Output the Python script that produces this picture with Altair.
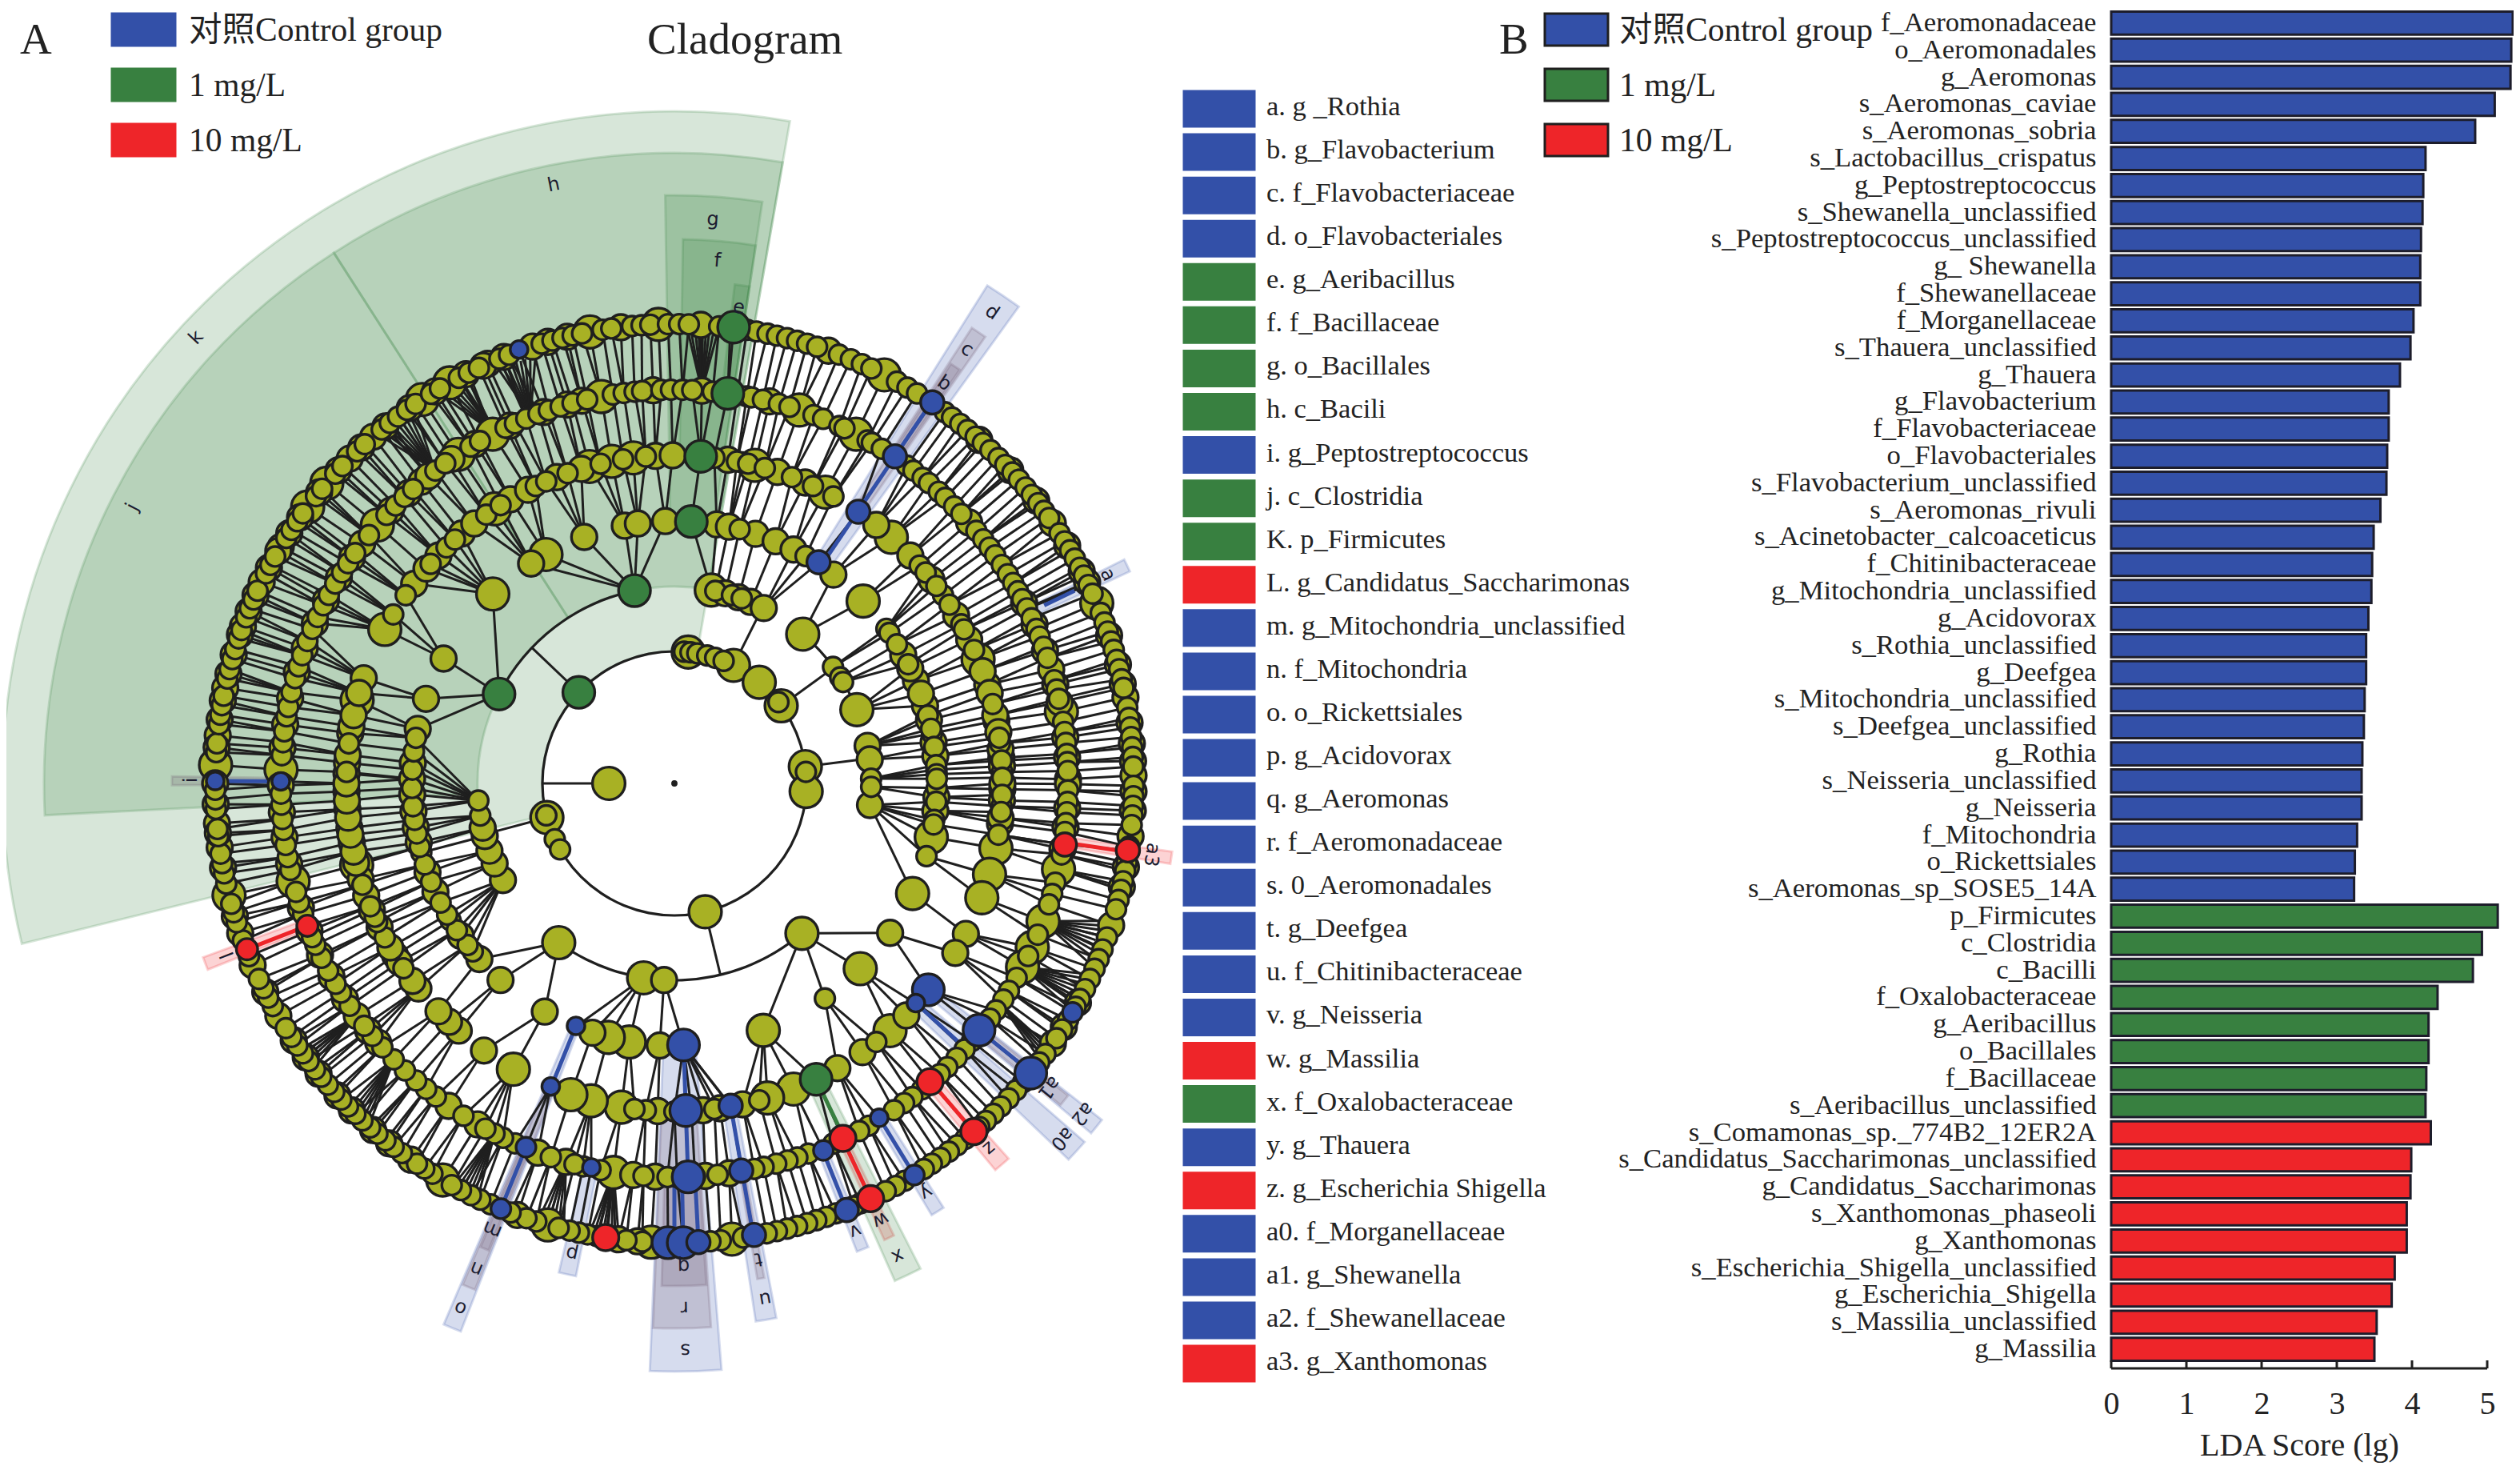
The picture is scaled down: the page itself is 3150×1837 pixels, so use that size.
import math
import altair as alt
import pandas as pd

W, H = 3134, 1821
BLUE, GREEN, RED, OLIVE = "#3350a8", "#388040", "#ee2529", "#a8b124"
INK = "#1f1f1f"
MIX = "#6a5068"
SERIF = "Liberation Serif, Noto Sans CJK SC"
CX, CY = 835, 971
S, M, L = 28, 36, 46
CS, CM, CL = 25, 33, 45

# ---------- LDA bars ----------
bar_names = ["f_Aeromonadaceae","o_Aeromonadales","g_Aeromonas","s_Aeromonas_caviae","s_Aeromonas_sobria",
 "s_Lactobacillus_crispatus","g_Peptostreptococcus","s_Shewanella_unclassified","s_Peptostreptococcus_unclassified",
 "g_ Shewanella","f_Shewanellaceae","f_Morganellaceae","s_Thauera_unclassified","g_Thauera","g_Flavobacterium",
 "f_Flavobacteriaceae","o_Flavobacteriales","s_Flavobacterium_unclassified","s_Aeromonas_rivuli",
 "s_Acinetobacter_calcoaceticus","f_Chitinibacteraceae","g_Mitochondria_unclassified","g_Acidovorax",
 "s_Rothia_unclassified","g_Deefgea","s_Mitochondria_unclassified","s_Deefgea_unclassified","g_Rothia",
 "s_Neisseria_unclassified","g_Neisseria","f_Mitochondria","o_Rickettsiales","s_Aeromonas_sp_SOSE5_14A",
 "p_Firmicutes","c_Clostridia","c_Bacilli","f_Oxalobacteraceae","g_Aeribacillus","o_Bacillales","f_Bacillaceae",
 "s_Aeribacillus_unclassified","s_Comamonas_sp._774B2_12ER2A","s_Candidatus_Saccharimonas_unclassified",
 "g_Candidatus_Saccharimonas","s_Xanthomonas_phaseoli","g_Xanthomonas","s_Escherichia_Shigella_unclassified",
 "g_Escherichia_Shigella","s_Massilia_unclassified","g_Massilia"]
bar_values = [5.34,5.32,5.31,5.10,4.84,4.18,4.15,4.14,4.12,4.11,4.11,4.02,3.98,3.84,3.69,3.69,3.67,3.66,3.58,3.49,
 3.47,3.46,3.42,3.39,3.39,3.37,3.36,3.34,3.33,3.33,3.27,3.24,3.23,5.14,4.93,4.81,4.34,4.22,4.22,4.19,4.18,4.25,
 3.99,3.98,3.93,3.93,3.77,3.73,3.53,3.50]
bar_groups = [BLUE]*33 + [GREEN]*8 + [RED]*9
tick_values = [0,1,2,3,4,5]

# ---------- key list ----------
key_names = ["a. g _Rothia","b. g_Flavobacterium","c. f_Flavobacteriaceae","d. o_Flavobacteriales","e. g_Aeribacillus",
 "f. f_Bacillaceae","g. o_Bacillales","h. c_Bacili","i. g_Peptostreptococcus","j. c_Clostridia","K. p_Firmicutes",
 "L. g_Candidatus_Saccharimonas","m. g_Mitochondria_unclassified","n. f_Mitochondria","o. o_Rickettsiales",
 "p. g_Acidovorax","q. g_Aeromonas","r. f_Aeromonadaceae","s. 0_Aeromonadales","t. g_Deefgea",
 "u. f_Chitinibacteraceae","v. g_Neisseria","w. g_Massilia","x. f_Oxalobacteraceae","y. g_Thauera",
 "z. g_Escherichia Shigella","a0. f_Morganellaceae","a1. g_Shewanella","a2. f_Shewanellaceae","a3. g_Xanthomonas"]
key_colors = [BLUE]*4+[GREEN]*4+[BLUE]+[GREEN]*2+[RED]+[BLUE]*10+[RED,GREEN,BLUE,RED,BLUE,BLUE,BLUE,RED]

# ---------- cladogram: angles in degrees clockwise from north ----------
ring_82 = {L: [270]}
ring_165 = {L: [6,26.6,40,54,82.7,93.5,166.5,255],
            S: [4.2,7,10,14.4,18,21.9,52,85,256,245,240]}
ring_246 = {L: [10.8,40.7,68,139.6,189,216],
            M: [15,19,22.8,27,79,83,96.3,183,240.6,246,250,254.5,257],
            S: [12,17,20,53.7,57.4,59,88.6,91,260.6,265]}
ring_328 = {L: [46,101.8,114.8,134.9,160.2,189.9,194.6,316.2,330.7],
            M: [9.3,12,18,22.7,27,37.3,60.7,67,72.8,84,96,124.7,183.2,198.2,209.6,221.5,228,234.5,245.6,250.2,257,260.3,263.9,
                267.6,271,274.5,282,288.8,298.4,326.9,339.9,349.1,352,358,64,70,76,81,93],
            S: [14.4,30,53.9,55,75,79,87,91,106.1,145,230.2,238.5,254.7,58,63,78,82,86,88,89,94,98,99,232,236,240,243,248,252,256,
                259,262,265,269,273,277,280]}
ring_410 = {L: [14.2,27.4,41.4,67.8,101.4,106.1,110.4,138.9,158.7,163.5,189.3,194.7,198.4,209.4,255.6,284.7,298,326.8,345,349,352.8],
            M: [9.4,18.3,23.5,38,46,51.6,59.2,64,72.5,79,85.5,91,97,117.3,121.1,135,145,150.2,168,172,175,182.9,
                215.5,221.1,223.4,226,231.3,238.4,247.3,250,253,259.6,262.2,265.5,268.6,271.7,273.6,278.8,288.7,307.5,310.9,
                314,319.6,322.4,330,333.5,339,343.5,356.7,359.7,70,74,78,81,84,87,90,93,96,233,237,240,244,256,258,261,264,267,270,275,280,282,286],
            S: [12,48.4,55,76,83,88,94,142,235.7,242,245,50,53,57,61,62,66,82,86,89,92,95,99,246,248,252,272,277,301,305,312,316,318,325,328,335,337,341,347,351,355,
                7,11,13,16,21,25,29,165,170,173,177,180,185,187]}
ring_492 = {L: [18.5,27.5,79.5,102.6,110.5,114.6,117.8,188.9,255.6,272,311,326.7,332.5,349.3],
            M: [4,14,48.5,73.2,89.4,182.8,175.5,172,186,196,200.3,210,215,233.8,307.5,320,356.9,
                62.7,66.2,70.3,75.4,78.1,83.3,86.2,90.1,93.6,96.4,99.6,228.8,231.1,236.8,240.6,244.2,248,251.6,258.2,262.1,265.8,269.7,
                275.2,278.6,282.5,286.4,290.1,294,297.7,301.5,305,313.9,317.5,321.3,325.5,329.6,335.3,340.6,344.2,346.4],
            S: [9.2,10.6,11.3,13,15.4,17,20.7,22.2,24.8,25.6,29.4,30.1,31.8,36.2,37.4,39.1,40.3,42.2,43.5,45.3,46.8,50.1,51.7,
                53.2,54.6,56.3,57.9,59.4,60.8,62.1,63.6,65.2,66.9,68.1,69.7,71.4,74.8,76.2,77.6,81,82.5,84.1,85.7,86.9,88.2,
                91,92.7,94.2,95.8,97.1,98.9,100.4,104.6,106.3,107.9,112.6,116,119.6,121.8,123.3,125.2,126.7,130.9,132.5,134.2,
                136.1,137.6,141,142.8,144.3,146.1,150.4,152,156.2,160.1,161.8,163.3,165,166.9,168.3,173.7,177,179.6,181,184.5,
                190.8,193.4,194.7,198.3,203.9,205.8,207.2,208.7,212.4,217.3,219.1,221,223.2,225.5,227.9,230.1,232,235.6,237.9,
                239.4,241.6,243.7,245.8,247,250.6,252.4,254,257.3,259.2,261,263.2,264.8,266.9,268.5,274.1,276,277.6,279.8,281.2,
                283.4,285.5,287.3,289,291.2,293.1,295,296.9,298.6,300.5,302.4,304,305.8,309.1,313,314.9,316.7,318.4,322.6,324.4,
                328.8,330.4,334.6,336.1,337.9,339.8,341.4,343.2,345,347.2,351,352.6,354.2,355.3,358.1,359.5,1.2,2.6,5.6]}
ring_574 = {L: [27.2,66.9,172.8,182.9,196,210.3,255.9,272.3,307,310.8,326.7,330.7,349.4,358],
            M: [19.6,55.5,79.2,89,96.6,108,124.5,184.6,187,200,215,239.6,246.7,251,262,265,276,282,290,296,301,315,319,336,342,353.3,3.3,
                41.6,47,52,58.8,62.5,64,71.2,75,77.5,82.4,85,87.2,91,93.4,100.5,103,118.5,122,218.4,221,224.6,227.2,230.8,233.4,236,243,
                253.2,259.4,263.8,267.4,270,274.5,278,280.4,283.8,286.3,288.9,292,294.2,298,300.4,303,305.4,309.3,313,317,321,324.8,328.6,333,335.4,338.2,344,346.5],
            S: [9.1,10.3,11.7,12.9,14.2,15.5,16.8,18.1,21,22.6,24.1,25.4,29,30.5,31.9,36.1,37.2,38.5,39.7,41,42.2,43.5,44.9,46.1,47.4,48.6,
                49.9,51.1,52.4,53.6,54.7,57,58.2,59.5,60.7,62,63.1,64.4,65.6,68.2,69.5,70.7,72,73.1,74.4,75.6,76.9,78,80.5,81.8,83,84.2,85.5,
                86.7,87.9,90.3,91.6,92.8,94,95.2,97.9,99.9,101,102.3,103.4,104.7,105.9,109.6,111.2,112.5,113.8,115.2,116.6,118,119.1,
                121,122.4,123.7,126.1,127.4,130.6,131.9,133.3,134.7,136,137.3,138.4,140.7,142,143.3,144.6,145.9,147.1,149.9,151.2,152.6,
                156.1,157,159.4,160.7,162,163.2,164.5,165.8,167.1,168.4,171.4,174.2,175.5,184,186,189.7,190.9,192,193.2,194.6,197.5,198.8,
                200.9,203.6,205,206.3,207.7,209,211.8,213,214.1,216.4,217.7,219,220.3,221.5,222.8,224,225.3,226.5,227.8,229,230.3,
                231.5,232.8,234,235.2,236.5,237.8,241,242.2,243.5,244.8,247.9,250,252.4,253.7,254.8,257.4,258.7,260,261.2,263.4,
                264.3,266.8,268,269.2,273.9,275,277.4,278.6,279.8,281,283.2,284.4,285.7,287,288.4,289.5,291.2,292.4,293.6,294.8,
                297.2,298.4,299.6,302.3,303.5,304.8,306,308.7,309.9,312.4,313.7,316.3,317.6,320.4,321.7,323,324.4,325.7,328,329.3,
                332,333.4,334.8,337.6,338.9,343.2,344.6,345.9,347.2,348.4,351,352.1,354.7,355.9,357,359.2,0.6,1.8,5.6,7]}

colored_nodes = [
 (165,313.6,GREEN,CL),(246,297,GREEN,CL),(246,348.3,GREEN,CL),(328,3.7,GREEN,CL),(410,4.6,GREEN,CL),(492,7.8,GREEN,CL),(575,7.4,GREEN,CL),
 (410,154.4,GREEN,CL),
 (330,33.1,BLUE,CM),(410,34.1,BLUE,CM),(493,34,BLUE,CM),(575,34.1,BLUE,CM),
 (327,178,BLUE,CL),(409,178,BLUE,CL),(492,178,BLUE,CL),(574,180.8,BLUE,CL),(574,178.9,BLUE,CL),(574,177,BLUE,CM),
 (327,202.1,BLUE,CS),(409,202.2,BLUE,CS),(491,202.2,BLUE,CS+3),(574,202.2,BLUE,CS+3),
 (491,192.2,BLUE,CS),(409,170.1,BLUE,CM),(491,170.2,BLUE,CM),(573,170,BLUE,CM),
 (495,157.9,BLUE,CS+3),(575,158,BLUE,CM),(490,148.5,BLUE,CS),(574,148.5,BLUE,CS+3),
 (574,129.1,BLUE,CL),(490,129,BLUE,CL),(409,129.1,BLUE,CL),(408,132.3,BLUE,CS),(574,119.9,BLUE,CS+3),
 (492,270.3,BLUE,CS),(574,270.3,BLUE,CS),(576,340.3,BLUE,CS),
 (491,154.6,RED,CM+4),(574,154.7,RED,CM+4),(574,139.3,RED,CM+4),(491,139.4,RED,CM+4),(574,188.6,RED,CM+4),
 (492,248.8,RED,CS+5),(573,248.8,RED,CS+5),(494,98.9,RED,CM),(573,98.4,RED,CM),
]
colored_links = [(492,574,270.3,BLUE),(492,574,248.8,RED),(494,574,98.6,RED),(513,555,64.3,BLUE),(330,575,34,BLUE),
 (327,409,202.1,BLUE),(491,574,202.2,BLUE),(409,491,170.1,BLUE),(491,573,170.1,BLUE),(495,575,158,BLUE),(491,574,154.7,RED),
 (490,574,148.5,BLUE),(491,574,139.3,RED),(490,574,129,BLUE),(409,490,132.3,BLUE),(492,574,177,BLUE),(492,574,180,BLUE),(492,574,178.9,BLUE),
 (327,492,178,BLUE),(410,492,154.4,GREEN)]
fans = [(492,4,[1.8,2.2,2.7,3.1,3.6,4,4.4,4.9,5.4]),(492,110.5,[107.8,108.4,109,109.7,110.4,111,111.7,112.4,113.3]),
 (492,117.8,[115,115.6,116.2,116.8,117.4,118,118.7,119.5]),(492,124,[125,125.4,125.8,126.2,126.7]),
 (491,188.9,[187.2,187.6,188,188.5,189,189.5,190,190.5]),(491,196,[194.2,194.8,195.4,196,196.6,197.2]),
 (491,207.2,[205.6,206.1,206.6,207.1,207.6,208.1,208.6]),(491,233.8,[232,232.5,233,233.5,234,234.5]),(491,225.5,[222.2,222.7,223.2,223.7,224.2]),
 (493,322.6,[320,320.6,321.2,321.8,322.4,323,323.6,324.2,325]),(491,332.9,[329.2,329.8,330.4,331,331.6,332.2,332.9]),
 (493,338.6,[337,337.6,338.2,338.8,339.4,340,340.6,341.3,342])]
# full circle and short arcs (r, from, to)
arc_lines = [(165,0,360),(246,139.6,216),(246,297,348.3),(246,10.8,27),(246,40.7,68),(246,79,96.3),(246,240.6,265)]

green_wedges = [(165,840,256.2,369.9,GREEN),(246,788,267.1,327.3,GREEN),(246,788,327.3,369.9,GREEN),
 (328,735,359.1,368.6,GREEN),(412,680,360.9,368.6,GREEN),(492,628,366.9,368.6,GREEN)]
# (r from, r to, centre, half width, colour)
strips = [(328,735,34,1.85,BLUE),(410,680,34,.85,MIX),(492,628,34,.6,MIX),(492,628,64.3,.75,BLUE),
 (492,628,270.3,.5,MIX),(492,628,249,.75,RED),(328,735,202.2,.9,BLUE),(410,680,202.2,.7,MIX),(492,628,202.2,.5,MIX),
 (492,628,192.3,1,BLUE),(328,735,178.9,3.5,BLUE),(410,681,179.2,3.05,MIX),(492,628,178.9,2.55,MIX),
 (410,680,170.3,1.1,BLUE),(492,628,170.1,.4,MIX),(492,628,158,.7,BLUE),(492,628,154.7,.6,RED),(410,680,154.6,1.5,GREEN),
 (492,628,148.4,.8,BLUE),(492,628,139.3,1,RED),(410,681,132.4,1.25,BLUE),(410,680,129.1,.9,BLUE),(492,628,129.1,.7,MIX),
 (492,628,98.5,.7,RED)]
clade_labels = [("a",601,64.3),("b",603,34),("c",654,34),("d",710,34),("e",600,7.7),("f",655,4.7),("g",706,3.9),("h",763,348.6),
 ("i",604,270.4),("j",760,297),("k",817,313),("l",598,249),("m",602,202.2),("n",655,202.2),("o",708,202.2),("p",601,192.3),
 ("q",603,178.9),("r",655,178.9),("s",708,178.9),("t",603,170),("u",654,170),("v",603,158),("w",603,154.7),("x",653,154.7),
 ("y",600,148.4),("z",602,139.2),("a0",657,132.5),("a1",603,129.1),("a2",656,129),("a3",603,98.5)]

def pol(r, t):
    a = math.radians(t)
    return CX + r*math.sin(a), CY - r*math.cos(a)

rings = [(82,ring_82),(165,ring_165),(246,ring_246),(328,ring_328),(410,ring_410),(492,ring_492),(574,ring_574)]
node_rows, level_nodes = [], {r: [] for r,_ in rings}
for r, ring in rings:
    for d, angs in ring.items():
        level_nodes[r].extend(angs)
for r, t, c, d in colored_nodes:
    lv = min(level_nodes, key=lambda k: abs(k-r))
    level_nodes[lv].append(t)

def adiff(a, b):
    return abs((a-b+180) % 360 - 180)

link_rows = []
levels = [r for r,_ in rings]
for i, r in enumerate(levels):
    if i < 3:
        continue
    for t in level_nodes[r]:
        p = min(level_nodes[levels[i-1]], key=lambda q: adiff(q, t))
        x, y = pol(r, t); x2, y2 = pol(levels[i-1], p)
        link_rows.append(dict(x=x, y=y, x2=x2, y2=y2))
# radial stems from the phylum ring to the class arcs
for r1, r2, t in [(82,165,270),(165,246,313.6),(165,246,166.5),(165,246,255),(165,246,26.6),(165,246,54),(165,246,82.7)]:
    x, y = pol(r1, t); x2, y2 = pol(r2, t)
    link_rows.append(dict(x=x, y=y, x2=x2, y2=y2))
for r, p, leaves in fans:
    for t in leaves:
        x, y = pol(562, t); x2, y2 = pol(r, p)
        link_rows.append(dict(x=x, y=y, x2=x2, y2=y2))
links = pd.DataFrame(link_rows)

for r, ring in reversed(rings):
    for d, angs in ring.items():
        for t in angs:
            x, y = pol(r, t)
            node_rows.append(dict(x=x, y=y, s=d*d*math.pi/4, c=OLIVE))
for r, t, c, d in colored_nodes:
    x, y = pol(r, t)
    node_rows.append(dict(x=x, y=y, s=d*d*math.pi/4, c=c))
x0, y0 = pol(0, 0)
node_rows.append(dict(x=x0, y=y0, s=20, c=INK))
nodes = pd.DataFrame(node_rows)

clink_rows = []
for r1, r2, t, c in colored_links:
    x, y = pol(r1, t); x2, y2 = pol(r2, t)
    clink_rows.append(dict(x=x, y=y, x2=x2, y2=y2, c=c))
clinks = pd.DataFrame(clink_rows)

DEG = math.pi/180
wedge_rows = [dict(cx=CX, cy=CY, r1=a, r2=b, t1=t1*DEG, t2=t2*DEG, c=c) for a,b,t1,t2,c in green_wedges]
wedge_rows += [dict(cx=CX, cy=CY, r1=a, r2=b, t1=(t-h)*DEG, t2=(t+h)*DEG, c=c) for a,b,t,h,c in strips]
wedges = pd.DataFrame(wedge_rows)
arcs = pd.DataFrame([dict(cx=CX, cy=CY, r1=r-1.6, r2=r+1.6, t1=a*DEG, t2=b*DEG) for r,a,b in arc_lines])

lab_rows = []
for txt, r, t in clade_labels:
    x, y = pol(r, t)
    lab_rows.append(dict(x=x, y=y, a=t % 360, t=txt))
labs = pd.DataFrame(lab_rows)

# ---------- layout text, key and legends ----------
text_rows = [dict(x=17, y=42, t="A", s=55), dict(x=801, y=42, t="Cladogram", s=55), dict(x=1866, y=42, t="B", s=55)]
legend_labels = ["对照Control group", "1 mg/L", "10 mg/L"]
legend_colors = [BLUE, GREEN, RED]
legend_y = [29, 98, 167]
rect_rows = []
for lab, c, y in zip(legend_labels, legend_colors, legend_y):
    text_rows.append(dict(x=228, y=y+2, t=lab, s=41.5))
    text_rows.append(dict(x=2016, y=y+2, t=lab, s=41.5))
    rect_rows.append(dict(x=132, x2=211, y=y-20, y2=y+20, c=c, st=c))
    rect_rows.append(dict(x=1923, x2=2002, y=y-20, y2=y+20, c=c, st=INK))
for i, (k, c) in enumerate(zip(key_names, key_colors)):
    yc = 128 + i*54.07
    text_rows.append(dict(x=1575, y=yc-2, t=k, s=34.5))
    rect_rows.append(dict(x=1472, x2=1560, y=yc-22, y2=yc+22, c=c, st=c))
texts = pd.DataFrame(text_rows)
rects = pd.DataFrame(rect_rows)

xpx = alt.Scale(domain=[0, W], range=[0, W], nice=False, zero=False)
ypx = alt.Scale(domain=[0, H], range=[0, H], nice=False, zero=False)
X = lambda f="x": alt.X(f"{f}:Q", scale=xpx, axis=None)
Y = lambda f="y": alt.Y(f"{f}:Q", scale=ypx, axis=None)

wedge_layer = alt.Chart(wedges).mark_arc(fillOpacity=.2, strokeOpacity=.2, strokeWidth=3).encode(
    x=X("cx"), y=Y("cy"),
    theta=alt.Theta("t1:Q", scale=None, stack=None), theta2="t2:Q",
    radius=alt.Radius("r2:Q", scale=None), radius2="r1:Q",
    fill=alt.Fill("c:N", scale=None), stroke=alt.Stroke("c:N", scale=None))
arc_layer = alt.Chart(arcs).mark_arc(color=INK).encode(
    x=X("cx"), y=Y("cy"),
    theta=alt.Theta("t1:Q", scale=None, stack=None), theta2="t2:Q",
    radius=alt.Radius("r2:Q", scale=None), radius2="r1:Q")
link_layer = alt.Chart(links).mark_rule(color=INK, strokeWidth=3).encode(x=X(), y=Y(), x2="x2:Q", y2="y2:Q")
clink_layer = alt.Chart(clinks).mark_rule(strokeWidth=5).encode(x=X(), y=Y(), x2="x2:Q", y2="y2:Q",
    color=alt.Color("c:N", scale=None))
node_layer = alt.Chart(nodes).mark_circle(opacity=1, stroke=INK, strokeWidth=3.4).encode(
    x=X(), y=Y(), size=alt.Size("s:Q", scale=None), color=alt.Color("c:N", scale=None))
lab_layer = alt.Chart(labs).mark_text(font="DejaVu Sans", fontSize=24, color="#1c1c30", baseline="middle", align="center").encode(
    x=X(), y=Y(), text="t:N", angle=alt.Angle("a:Q", scale=None))
rect_layer = alt.Chart(rects).mark_rect(strokeWidth=3).encode(x=X(), x2="x2:Q", y=Y(), y2="y2:Q",
    fill=alt.Fill("c:N", scale=None), stroke=alt.Stroke("st:N", scale=None))
text_layer = alt.Chart(texts).mark_text(font=SERIF, color="#222222", baseline="middle", align="left").encode(
    x=X(), y=Y(), text="t:N", size=alt.Size("s:Q", scale=None))

bars = pd.DataFrame(dict(name=bar_names, v=bar_values, c=bar_groups))
BX = alt.Scale(domain=[0, 5], range=[2631, 3101], nice=False)
BY = alt.Scale(domain=bar_names, range=[4, 1695], paddingInner=.15, paddingOuter=.075)
bar_layer = alt.Chart(bars).mark_bar(stroke="#1d1d2b", strokeWidth=3).encode(
    x=alt.X("v:Q", scale=BX, stack=None,
            axis=alt.Axis(values=tick_values, title="LDA Score (lg)", orient="bottom", offset=-119, ticks=False, domain=False,
                          labelFont=SERIF, labelFontSize=40, labelColor="#222222", labelPadding=24, labelFlush=False, grid=False,
                          titleFont=SERIF, titleFontSize=40, titleFontWeight="normal", titleColor="#222222", titlePadding=12)),
    y=alt.Y("name:N", sort=bar_names, scale=BY,
            axis=alt.Axis(title=None, orient="left", offset=-2631, ticks=False, domain=False, labelFont=SERIF,
                          labelFontSize=34.7, labelColor="#222222", labelPadding=19, labelLimit=0, grid=False)),
    fill=alt.Fill("c:N", scale=None))

ticks = pd.DataFrame(dict(v=tick_values, y=[1692]*6, y2=[1702]*6))
tick_layer = alt.Chart(ticks).mark_rule(color=INK, strokeWidth=3).encode(
    x=alt.X("v:Q", scale=BX, axis=None), y=Y(), y2="y2:Q")
base = pd.DataFrame(dict(v=[0], v2=[5], y=[1702]))
base_layer = alt.Chart(base).mark_rule(color=INK, strokeWidth=3).encode(
    x=alt.X("v:Q", scale=BX, axis=None), x2="v2:Q", y=Y())

chart = alt.layer(wedge_layer, arc_layer, link_layer, clink_layer, node_layer, lab_layer,
                  rect_layer, text_layer, bar_layer, tick_layer, base_layer).resolve_scale(
    x="independent", y="independent").properties(
    width=W, height=H, padding=0, autosize=alt.AutoSizeParams(type="none"), background="white"
).configure_view(stroke=None)

chart.save("out.html", embed_options={"renderer": "svg", "actions": False})
